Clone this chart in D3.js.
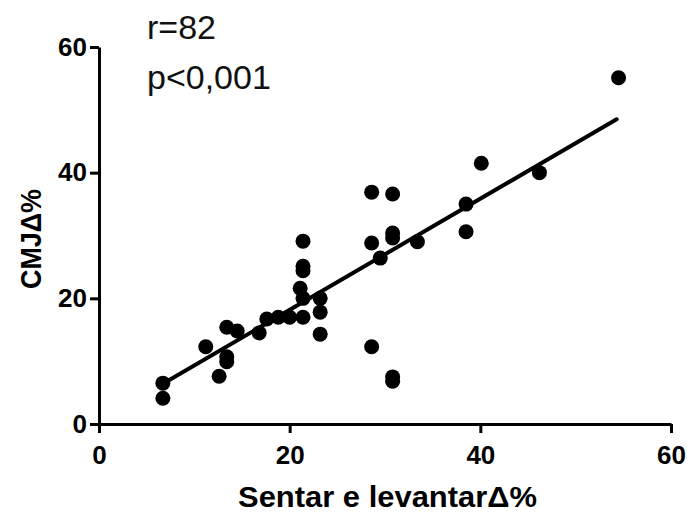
<!DOCTYPE html>
<html lang="pt">
<head>
  <meta charset="UTF-8" />
  <title>CMJ vs Sentar e levantar</title>
  <script src="https://cdn.jsdelivr.net/npm/d3@7"></script>
  <style>
    html, body { margin: 0; padding: 0; background: #fff; overflow: hidden; }
    svg { display: block; }
    .tick text { font-family: "Liberation Sans", Arial, sans-serif; font-weight: bold; }
  </style>
</head>
<body>
  <script>
    // Sentar e levantar delta % (x) and CMJ delta % (y)
    const sentarLevantar = [
      6.7, 6.7, 11.2, 12.6, 13.4, 13.4, 13.4, 14.5, 16.8, 17.6,
      18.8, 20.0, 21.4, 21.1, 21.4, 21.4, 21.4, 21.4, 23.2, 23.2,
      23.2, 28.6, 28.6, 28.6, 29.5, 30.8, 30.8, 30.8, 30.8, 30.8,
      33.4, 38.5, 38.5, 40.1, 46.2, 54.5
    ];
    const cmj = [
      6.5, 4.1, 12.3, 7.6, 10.7, 9.9, 15.4, 14.8, 14.5, 16.7,
      17.0, 17.0, 17.0, 21.6, 20.0, 29.1, 25.1, 24.4, 20.0, 17.8,
      14.3, 36.9, 28.8, 12.3, 26.4, 36.6, 30.4, 29.6, 7.5, 6.8,
      29.0, 35.0, 30.6, 41.5, 40.0, 55.1
    ];
    // regression line ends (x, y)
    const fitX = [6.7, 54.3];
    const fitY = [6.4, 48.5];
    const ticks = [0, 20, 40, 60];
    const stats = ["r=82", "p<0,001"];

    const width = 691, height = 516;
    const margin = { left: 99, right: 20, top: 47, bottom: 92 };

    const svg = d3.select("body").append("svg")
      .attr("width", width)
      .attr("height", height);

    const x = d3.scaleLinear().domain([0, 60]).range([margin.left, width - margin.right]);
    const y = d3.scaleLinear().domain([0, 60]).range([height - margin.bottom, margin.top]);

    // axes
    const xAxis = svg.append("g")
      .attr("transform", `translate(0,${y(0)})`)
      .call(d3.axisBottom(x).tickValues(ticks).tickSize(9).tickPadding(12).tickSizeOuter(0));
    const yAxis = svg.append("g")
      .attr("transform", `translate(${x(0)},0)`)
      .call(d3.axisLeft(y).tickValues(ticks).tickSize(9).tickPadding(3).tickSizeOuter(0));

    [xAxis, yAxis].forEach(g => {
      g.select(".domain").attr("stroke", "#000").attr("stroke-width", 3);
      g.selectAll(".tick line").attr("stroke", "#000").attr("stroke-width", 3);
      g.selectAll(".tick text").attr("fill", "#000").style("font-size", "26px");
    });
    xAxis.selectAll(".tick text").attr("dy", "0.72em");

    // regression line
    svg.append("line")
      .attr("x1", x(fitX[0])).attr("y1", y(fitY[0]))
      .attr("x2", x(fitX[1])).attr("y2", y(fitY[1]))
      .attr("stroke", "#000")
      .attr("stroke-width", 4)
      .attr("stroke-linecap", "round");

    // points
    svg.append("g").selectAll("circle")
      .data(sentarLevantar.map((v, i) => [v, cmj[i]]))
      .join("circle")
      .attr("cx", d => x(d[0]))
      .attr("cy", d => y(d[1]))
      .attr("r", 7.5)
      .attr("fill", "#000");

    // axis titles (narrow bold look)
    svg.append("text")
      .attr("x", 238).attr("y", 507)
      .attr("textLength", 299)
      .attr("lengthAdjust", "spacingAndGlyphs")
      .style("font-family", "'Liberation Sans', Arial, sans-serif")
      .style("font-weight", "bold")
      .style("font-size", "29px")
      .text("Sentar e levantarΔ%");

    svg.append("text")
      .attr("transform", "translate(41,289) rotate(-90)")
      .attr("textLength", 100)
      .attr("lengthAdjust", "spacingAndGlyphs")
      .style("font-family", "'Liberation Sans', Arial, sans-serif")
      .style("font-weight", "bold")
      .style("font-size", "30px")
      .text("CMJΔ%");

    // stats annotation
    svg.append("g").selectAll("text")
      .data(stats)
      .join("text")
      .attr("x", 147)
      .attr("y", (d, i) => 39 + i * 50)
      .style("font-family", "'Liberation Sans', Arial, sans-serif")
      .style("font-size", "34px")
      .attr("fill", "#111")
      .text(d => d);
  </script>
</body>
</html>
